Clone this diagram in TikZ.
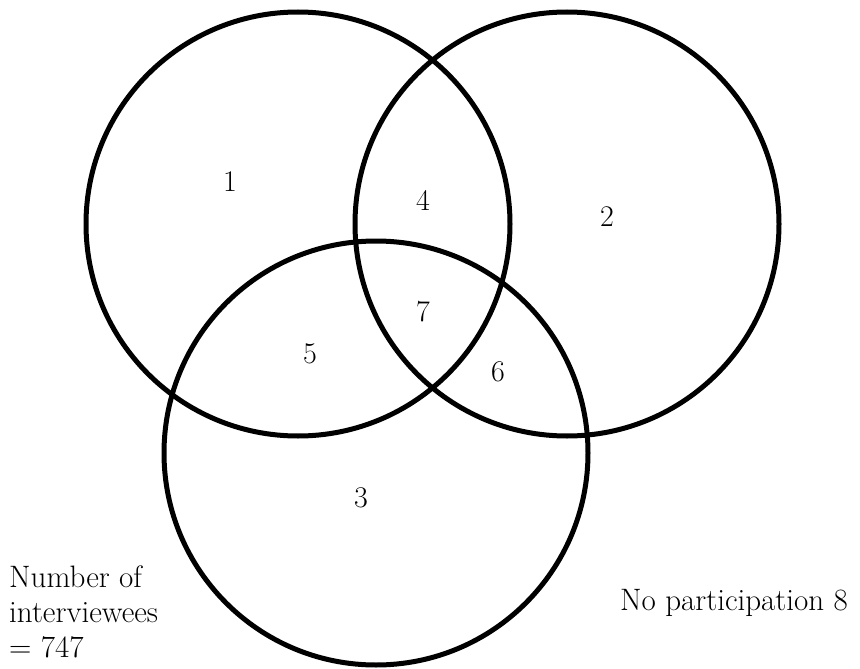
\documentclass[tikz,border=0pt]{standalone}
\usepackage{tikz}
\usetikzlibrary{positioning}

\begin{document}
\begin{tikzpicture}[x=1pt, y=-1pt,
  set/.style={draw=black, line width=5pt, circle, minimum size=424pt, inner sep=0pt},
  num/.style={font=\fontsize{30}{35}\selectfont, inner sep=0pt},
  note/.style={font=\fontsize{31}{35}\selectfont, inner sep=0pt, align=left}]
\useasboundingbox (0,0) rectangle (860,669);
% three sets
\node[set] (setA) at (298,224) {};
\node[set] (setB) at (567,224) {};
\node[set] (setC) at (376,453) {};
% region counts
\node[num] (rA) at (230,182) {1};
\node[num] (rB) at (607,217) {2};
\node[num] (rC) at (361,498) {3};
\node[num] (rAB) at (423,200) {4};
\node[num] (rAC) at (310,354) {5};
\node[num] (rBC) at (498,372) {6};
\node[num] (rABC) at (423,312) {7};
% notes
\node[note, anchor=north west] (total) at (9,566) {Number of\\interviewees\\= 747};
\node[note, anchor=west] (none) at (620,603) {No participation 8};
\end{tikzpicture}
\end{document}
